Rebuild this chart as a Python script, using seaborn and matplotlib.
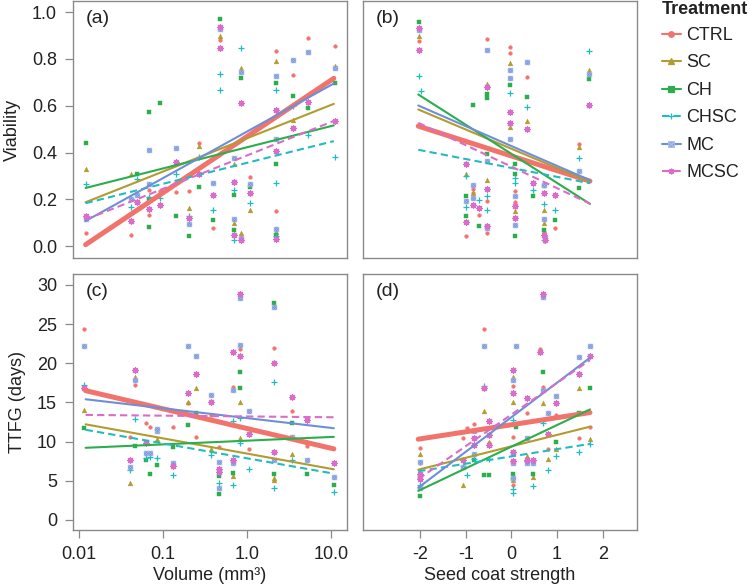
import matplotlib
matplotlib.use("Agg")
import pandas as pd
import matplotlib.pyplot as plt
import seaborn as sns
from matplotlib.lines import Line2D
from matplotlib.path import Path

# --- treatments, colours, markers ---
treatments = ["CTRL", "SC", "CH", "CHSC", "MC", "MCSC"]
colors = ["#F2736C", "#B39B30", "#2BAE4B", "#23BBC2", "#6D8FD8", "#D96DC9"]

# --- fitted line end points ---
vol_fit_x = [0.012, 10.8]
scs_fit_x = [-2.04, 1.72]
a_start = [0.007, 0.188, 0.249, 0.184, 0.108, 0.114]
a_end = [0.717, 0.608, 0.516, 0.449, 0.695, 0.535]
b_start = [0.513, 0.584, 0.648, 0.412, 0.601, 0.527]
b_end = [0.278, 0.275, 0.181, 0.269, 0.282, 0.182]
c_start = [16.5, 12.2, 9.2, 11.5, 15.4, 13.4]
c_end = [9.06, 6.45, 10.6, 5.9, 11.7, 13.1]
d_start = [10.3, 6.4, 3.7, 6.2, 4.1, 5.2]
d_end = [13.7, 11.9, 14.1, 9.7, 20.7, 20.4]

# --- observations: (x, treatment, y) ---
vol_viability = [
    (0.0122, "CH", .443), (0.0122, "SC", .329), (0.0122, "CHSC", .264), (0.0122, "MCSC", .128), (0.0122, "MC", .118), (0.0122, "CTRL", .058),
    (0.042, "SC", .31), (0.042, "MCSC", .107), (0.042, "CTRL", .048), (0.042, "MC", .20), (0.042, "CHSC", .168),
    (0.049, "CH", .31), (0.049, "CHSC", .289), (0.049, "MC", .217), (0.049, "MCSC", .19),
    (0.068, "CH", .573), (0.068, "MC", .412), (0.068, "MC", .264), (0.068, "CTRL", .241), (0.068, "CH", .20), (0.068, "CHSC", .21), (0.068, "MCSC", .16), (0.068, "CTRL", .132), (0.068, "CH", .083),
    (0.093, "CH", .611), (0.093, "MCSC", .178), (0.093, "CTRL", .234), (0.093, "CHSC", .205),
    (0.144, "MC", .42), (0.144, "MCSC", .358), (0.144, "CHSC", .307), (0.144, "CH", .128), (0.144, "CTRL", .231),
    (0.204, "CTRL", .235), (0.204, "SC", .162), (0.204, "MCSC", .122), (0.204, "MC", .096), (0.204, "CH", .044), (0.204, "CHSC", .13),
    (0.27, "CTRL", .44), (0.27, "SC", .43), (0.27, "CHSC", .38), (0.27, "CH", .251), (0.27, "MCSC", .31),
    (0.39, "MC", .27), (0.39, "MCSC", .22), (0.39, "CHSC", .154), (0.39, "CH", .113), (0.39, "CTRL", .078),
    (0.48, "CH", .97), (0.48, "MC", .926), (0.48, "MCSC", .937), (0.48, "SC", .899), (0.48, "CTRL", .88), (0.48, "MCSC", .847), (0.48, "CHSC", .736), (0.48, "CHSC", .668),
    (0.695, "MC", .377), (0.695, "SC", .35), (0.695, "MCSC", .275), (0.695, "CHSC", .24), (0.695, "CH", .22), (0.695, "MC", .115), (0.695, "SC", .10), (0.695, "CH", .07), (0.695, "MCSC", .05), (0.695, "CHSC", .026),
    (0.85, "CHSC", .845), (0.85, "SC", .763), (0.85, "MC", .742), (0.85, "CH", .72), (0.85, "MCSC", .611), (0.85, "SC", .058), (0.85, "CTRL", .05), (0.85, "MC", .037), (0.85, "MCSC", .026),
    (1.1, "CTRL", .296), (1.1, "MC", .266), (1.1, "CH", .255), (1.1, "MCSC", .228), (1.1, "CHSC", .184), (1.1, "SC", .155),
    (2.2, "CTRL", .833), (2.2, "SC", .79), (2.2, "MC", .728), (2.2, "CH", .697), (2.2, "CHSC", .665), (2.2, "MCSC", .58), (2.2, "MC", .46), (2.2, "MCSC", .406), (2.2, "CH", .353), (2.2, "CHSC", .27), (2.2, "CTRL", .15), (2.2, "MC", .074), (2.2, "SC", .06), (2.2, "CH", .05), (2.2, "MCSC", .033), (2.2, "CHSC", .045),
    (3.5, "CTRL", .73), (3.5, "MC", .794), (3.5, "CH", .643), (3.5, "MCSC", .505), (3.5, "SC", .538), (3.5, "CHSC", .60),
    (5.3, "CTRL", .891), (5.3, "MC", .83), (5.3, "MCSC", .618), (5.3, "CH", .592), (5.3, "CHSC", .475),
    (11.0, "CTRL", .854), (11.0, "SC", .771), (11.0, "MC", .761), (11.0, "CH", .697), (11.0, "MCSC", .535), (11.0, "CHSC", .381),
]

scs_viability = [
    (-2.02, "CH", .957), (-2.02, "MC", .925), (-2.02, "MCSC", .93), (-2.02, "SC", .898), (-2.02, "CTRL", .877), (-2.02, "MCSC", .836), (-2.02, "CHSC", .725), (-1.99, "CHSC", .662),
    (-1.0, "SC", .309), (-1.0, "CHSC", .30), (-1.0, "MCSC", .35), (-1.0, "CH", .216), (-1.0, "MC", .195), (-1.0, "CHSC", .166), (-1.0, "MCSC", .105), (-1.0, "CTRL", .045), (-1.0, "CH", .128),
    (-0.84, "CH", .605), (-0.84, "MC", .261), (-0.84, "MC", .208), (-0.84, "MCSC", .177), (-0.84, "CTRL", .228), (-0.84, "CTRL", .245), (-0.84, "SC", .226),
    (-0.72, "CHSC", .197), (-0.72, "MCSC", .162), (-0.72, "CTRL", .132), (-0.72, "CH", .087),
    (-0.53, "CTRL", .883), (-0.53, "MC", .838), (-0.53, "SC", .692), (-0.53, "MCSC", .68), (-0.53, "CH", .652), (-0.53, "CH", .632), (-0.53, "CH", .396), (-0.53, "MC", .363), (-0.53, "SC", .281), (-0.53, "MCSC", .244), (-0.53, "CHSC", .214), (-0.53, "CTRL", .194), (-0.53, "CHSC", .154), (-0.53, "MC", .078), (-0.53, "MCSC", .085), (-0.53, "CTRL", .057),
    (-0.04, "CTRL", .852), (-0.04, "CTRL", .824), (-0.04, "SC", .781), (-0.04, "MC", .752), (-0.04, "MC", .719), (-0.04, "CH", .688), (-0.04, "CHSC", .655), (-0.04, "MCSC", .574), (-0.04, "MCSC", .527), (-0.04, "SC", .51), (-0.04, "MC", .456),
    (0.07, "CH", .35), (0.07, "CH", .307), (0.07, "CHSC", .29), (0.07, "CHSC", .27), (0.07, "CTRL", .234), (0.07, "MC", .215), (0.07, "CTRL", .19), (0.07, "MCSC", .172), (0.07, "SC", .15), (0.07, "MCSC", .12), (0.07, "MC", .09), (0.07, "CH", .043),
    (0.34, "MC", .787), (0.34, "CTRL", .723), (0.34, "CH", .637), (0.34, "CHSC", .594), (0.34, "SC", .534), (0.34, "MCSC", .5),
    (0.48, "MCSC", .272), (0.48, "CHSC", .239), (0.48, "CH", .216),
    (0.72, "MC", .115), (0.72, "SC", .10), (0.72, "CH", .07), (0.72, "MCSC", .05), (0.72, "CTRL", .06), (0.74, "MC", .037), (0.72, "CHSC", .026), (0.74, "MCSC", .026), (0.72, "MC", .261), (0.72, "MCSC", .228), (0.72, "CHSC", .18), (0.72, "SC", .155), (0.72, "CH", .256),
    (0.96, "MCSC", .217), (0.96, "CHSC", .153), (0.96, "CH", .111), (0.96, "CTRL", .078),
    (1.47, "CTRL", .436), (1.47, "SC", .425), (1.47, "CHSC", .375), (1.47, "MC", .322), (1.47, "CH", .248),
    (1.69, "CHSC", .835), (1.69, "SC", .754), (1.69, "MC", .735), (1.69, "CH", .712), (1.69, "MCSC", .604),
]

vol_ttfg = [
    (0.0115, "CTRL", 24.4), (0.0115, "MC", 22.2), (0.0115, "CHSC", 17.2), (0.0115, "MCSC", 16.9), (0.0115, "SC", 14.0), (0.0115, "CH", 11.7),
    (0.04, "SC", 4.66), (0.04, "MC", 6.8), (0.04, "CHSC", 6.4), (0.04, "MCSC", 7.7), (0.04, "CTRL", 10.55),
    (0.047, "MCSC", 19.2), (0.047, "MC", 17.9), (0.047, "SC", 18.2), (0.047, "CTRL", 17.2), (0.047, "CHSC", 12.9), (0.047, "CH", 9.45),
    (0.063, "CTRL", 12.4), (0.063, "MC", 8.55), (0.063, "CH", 7.7), (0.063, "CHSC", 7.95), (0.063, "MCSC", 9.8), (0.063, "MC", 9.9),
    (0.07, "CTRL", 11.8), (0.07, "CH", 5.9), (0.07, "MC", 8.5), (0.07, "CHSC", 8.0),
    (0.085, "MC", 11.3), (0.085, "CH", 7.05), (0.085, "CHSC", 7.9), (0.085, "MC", 11.6), (0.085, "SC", 10.3),
    (0.13, "CTRL", 11.8), (0.13, "CH", 9.3), (0.13, "MC", 7.2), (0.13, "MCSC", 6.9), (0.13, "CHSC", 5.77),
    (0.2, "MC", 22.2), (0.2, "MCSC", 16.2), (0.2, "CTRL", 14.9), (0.2, "SC", 15.0), (0.2, "CH", 12.1),
    (0.25, "MC", 20.9), (0.25, "MCSC", 18.6), (0.25, "SC", 16.9), (0.25, "CTRL", 10.55), (0.25, "CH", 13.6),
    (0.37, "MC", 15.9), (0.37, "MCSC", 15.0), (0.37, "CTRL", 13.4), (0.37, "SC", 9.1), (0.37, "CHSC", 8.3),
    (0.46, "CTRL", 9.3), (0.46, "MC", 7.4), (0.46, "MCSC", 6.5), (0.46, "MCSC", 6.15), (0.46, "MC", 4.1), (0.46, "CH", 5.6), (0.46, "CH", 3.25), (0.46, "CHSC", 4.66),
    (0.68, "MCSC", 21.4), (0.68, "CTRL", 17.0), (0.68, "MC", 16.6), (0.68, "CHSC", 12.6), (0.68, "MCSC", 7.7), (0.68, "MC", 7.3), (0.68, "CH", 6.0), (0.68, "SC", 5.6), (0.68, "CHSC", 4.45),
    (0.83, "MCSC", 28.8), (0.83, "MC", 28.3), (0.83, "MC", 22.3), (0.83, "CTRL", 21.8), (0.83, "MCSC", 20.9), (0.83, "CH", 18.9), (0.83, "CH", 16.8), (0.83, "SC", 15.0), (0.83, "CHSC", 13.0), (0.83, "SC", 10.4), (0.83, "CHSC", 9.8),
    (1.05, "MC", 13.9), (1.05, "MCSC", 11.0), (1.05, "CTRL", 9.1), (1.05, "CHSC", 6.5),
    (2.1, "CH", 27.7), (2.1, "MC", 27.2), (2.1, "CTRL", 22.0), (2.1, "MCSC", 20.0), (2.1, "CHSC", 17.6), (2.1, "MCSC", 8.7), (2.1, "MC", 7.6), (2.1, "CH", 5.9), (2.1, "SC", 5.4), (2.1, "CHSC", 4.1), (2.1, "SC", 5.1),
    (3.4, "MCSC", 15.7), (3.4, "CTRL", 13.9), (3.4, "CH", 12.4), (3.4, "MC", 10.55), (3.4, "SC", 8.4), (3.4, "CHSC", 7.65),
    (5.2, "MCSC", 12.7), (5.2, "CTRL", 9.4), (5.2, "MC", 7.7), (5.2, "CH", 5.8), (5.2, "SC", 10.0),
    (10.8, "MCSC", 7.2), (10.8, "MC", 5.5), (10.8, "CH", 4.5), (10.8, "CHSC", 3.55),
]

scs_ttfg = [
    (-2.0, "CTRL", 9.2), (-2.0, "SC", 8.4), (-2.0, "CTRL", 7.2), (-2.0, "MC", 7.4), (-2.0, "MCSC", 5.9), (-2.0, "CH", 5.5), (-2.0, "CHSC", 4.5), (-2.0, "MC", 4.1), (-2.0, "CH", 3.0), (-2.0, "MCSC", 5.2),
    (-1.05, "CTRL", 10.4), (-1.05, "SC", 4.5), (-1.05, "MC", 6.8), (-1.05, "CHSC", 6.9), (-0.98, "CTRL", 11.7), (-0.98, "CHSC", 5.7), (-1.05, "MCSC", 7.7),
    (-0.83, "CTRL", 12.3), (-0.83, "MCSC", 10.4), (-0.83, "MCSC", 9.5), (-0.83, "MC", 8.4), (-0.83, "CHSC", 7.8), (-0.83, "CH", 7.7), (-0.83, "MC", 11.3),
    (-0.6, "CTRL", 24.4), (-0.6, "MC", 22.2), (-0.6, "CHSC", 17.05), (-0.6, "MCSC", 16.8), (-0.6, "SC", 13.9), (-0.6, "CH", 5.7),
    (-0.5, "MCSC", 12.6), (-0.5, "MCSC", 10.8), (-0.5, "SC", 10.0), (-0.5, "MCSC", 9.6), (-0.5, "CTRL", 9.8), (-0.5, "CH", 5.7), (-0.5, "CHSC", 7.8),
    (0.03, "MCSC", 19.2), (0.03, "MC", 17.8), (0.03, "SC", 18.2), (0.03, "CTRL", 17.1), (0.03, "MCSC", 16.2), (0.03, "SC", 15.0), (0.03, "CTRL", 10.6), (0.03, "MCSC", 8.6), (0.03, "MC", 8.5), (0.03, "MCSC", 7.5), (0.03, "MC", 7.2), (0.03, "CH", 5.8), (0.03, "SC", 5.1), (0.03, "CH", 5.2), (0.03, "MC", 5.3), (0.03, "CHSC", 4.0), (0.03, "CHSC", 3.4), (0.03, "CTRL", 4.5), (0.03, "CHSC", 12.8),
    (0.1, "MC", 22.2), (0.1, "CH", 11.9),
    (0.34, "MCSC", 15.6), (0.34, "CTRL", 13.7), (0.34, "MC", 10.4), (0.34, "SC", 8.2), (0.34, "CHSC", 7.5), (0.34, "MC", 7.3), (0.34, "MCSC", 7.6), (0.34, "CTRL", 7.8),
    (0.48, "CH", 5.9), (0.48, "SC", 5.5), (0.48, "CHSC", 4.3), (0.48, "MCSC", 7.6), (0.48, "MC", 7.2), (0.48, "CTRL", 7.7),
    (0.7, "MCSC", 28.8), (0.7, "MC", 28.4), (0.62, "CTRL", 21.8), (0.62, "MCSC", 21.4), (0.7, "CH", 18.9), (0.7, "CTRL", 17.0), (0.7, "MC", 16.6), (0.7, "SC", 14.9), (0.7, "CHSC", 12.4),
    (0.8, "MC", 13.7), (0.8, "MCSC", 10.9), (0.8, "CTRL", 9.1), (0.8, "CHSC", 6.4), (0.8, "SC", 7.8),
    (0.98, "MC", 15.8), (0.98, "MCSC", 14.9), (0.98, "CTRL", 13.4), (0.98, "CH", 9.9), (0.98, "SC", 9.0), (0.98, "CHSC", 8.2),
    (1.49, "MC", 20.8), (1.49, "MCSC", 18.6), (1.49, "SC", 16.8), (1.49, "CTRL", 10.4), (1.49, "CHSC", 8.7), (1.49, "CH", 13.7),
    (1.71, "MC", 22.2), (1.71, "MCSC", 20.9), (1.71, "CH", 16.8), (1.71, "CTRL", 11.8), (1.71, "SC", 10.3), (1.71, "CHSC", 9.7),
]

# boxed-x marker for MC
box_x = Path(
    [(-1, -1), (1, -1), (1, 1), (-1, 1), (-1, -1), (-1, -1), (1, 1), (-1, 1), (1, -1)],
    [Path.MOVETO, Path.LINETO, Path.LINETO, Path.LINETO, Path.CLOSEPOLY,
     Path.MOVETO, Path.LINETO, Path.MOVETO, Path.LINETO],
)
mc_light = "#aabdea"
markers = ["o", "^", "s", "+", box_x, (8, 2, 0)]
sizes = [7, 12, 8, 20, 12, 18]
styles = ["-", "-", "-", (0, (3.5, 2)), "-", (0, (3.5, 2))]
widths = [3.6, 1.5, 1.5, 1.5, 1.5, 1.5]

sns.set_style("white")
plt.rcParams["font.family"] = ["Liberation Sans", "DejaVu Sans"]
plt.rcParams["axes.unicode_minus"] = False
spine_col = "#8a8a8a"
text_col = "#222222"

fig = plt.figure(figsize=(7.5, 5.86), dpi=100)
ax_a = fig.add_axes([73 / 750, 1 - 258 / 586, 274 / 750, 257 / 586])
ax_b = fig.add_axes([363 / 750, 1 - 258 / 586, 274 / 750, 257 / 586])
ax_c = fig.add_axes([73 / 750, 1 - 530 / 586, 274 / 750, 256 / 586])
ax_d = fig.add_axes([363 / 750, 1 - 530 / 586, 274 / 750, 256 / 586])


def draw_panel(ax, pts, fit_x, starts, ends):
    df = pd.DataFrame(pts, columns=["x", "trt", "y"])
    for i, t in enumerate(treatments):
        sub = df[df["trt"] == t]
        m = markers[i]
        if m == "+" or isinstance(m, tuple):
            sns.scatterplot(data=sub, x="x", y="y", marker=m, color=colors[i],
                            s=sizes[i], linewidth=0.9, ax=ax, legend=False, zorder=2)
        elif isinstance(m, Path):
            sns.scatterplot(data=sub, x="x", y="y", marker=m, facecolor=colors[i],
                            edgecolor=mc_light, s=sizes[i], linewidth=0.45, ax=ax,
                            legend=False, zorder=2)
        else:
            sns.scatterplot(data=sub, x="x", y="y", marker=m, color=colors[i],
                            edgecolor=colors[i], s=sizes[i], linewidth=0.3, ax=ax,
                            legend=False, zorder=2)
    for i, t in enumerate(treatments):
        sns.lineplot(x=fit_x, y=[starts[i], ends[i]], color=colors[i], lw=widths[i],
                     linestyle=styles[i], ax=ax, zorder=3)


draw_panel(ax_a, vol_viability, vol_fit_x, a_start, a_end)
draw_panel(ax_b, scs_viability, scs_fit_x, b_start, b_end)
draw_panel(ax_c, vol_ttfg, vol_fit_x, c_start, c_end)
draw_panel(ax_d, scs_ttfg, scs_fit_x, d_start, d_end)

for ax in (ax_a, ax_c):
    ax.set_xscale("log")
    ax.set_xlim(10 ** -2.071, 10 ** 1.19)
for ax in (ax_b, ax_d):
    ax.set_xlim(-3.25, 2.75)
for ax in (ax_a, ax_b):
    ax.set_ylim(-0.05, 1.047)
for ax in (ax_c, ax_d):
    ax.set_ylim(-1.3, 31.4)

ax_a.set_yticks([0, 0.2, 0.4, 0.6, 0.8, 1.0])
ax_a.set_yticklabels(["0.0", "0.2", "0.4", "0.6", "0.8", "1.0"])
ax_c.set_yticks([0, 5, 10, 15, 20, 25, 30])
ax_c.set_xticks([0.01, 0.1, 1, 10])
ax_c.set_xticklabels(["0.01", "0.1", "1.0", "10.0"])
ax_c.minorticks_off()
ax_a.minorticks_off()
ax_d.set_xticks([-2, -1, 0, 1, 2])
ax_d.set_xticklabels(["-2", "-1", "0", "1", "2"])

for ax, lab in zip((ax_a, ax_b, ax_c, ax_d), ["(a)", "(b)", "(c)", "(d)"]):
    ax.set_xlabel("")
    ax.set_ylabel("")
    for s in ax.spines.values():
        s.set_color(spine_col)
        s.set_linewidth(1.0)
    ax.tick_params(colors=spine_col, labelcolor=text_col, length=5.5, width=0.9,
                   labelsize=13, pad=6, direction="out")
    ax.text(0.045, 0.965, lab, transform=ax.transAxes, ha="left", va="top",
            fontsize=14, color=text_col)

ax_a.tick_params(axis="x", bottom=False, labelbottom=False)
ax_b.tick_params(axis="both", bottom=False, labelbottom=False, left=False, labelleft=False)
ax_c.tick_params(axis="x", bottom=True)
ax_c.tick_params(axis="y", left=True)
ax_a.tick_params(axis="y", left=True)
ax_d.tick_params(axis="y", left=False, labelleft=False)
ax_d.tick_params(axis="x", bottom=True)

ax_a.set_ylabel("Viability", fontsize=13, color=text_col, labelpad=8)
ax_c.set_ylabel("TTFG (days)", fontsize=13, color=text_col, labelpad=8)
ax_c.set_xlabel("Volume (mm³)", fontsize=13, color=text_col, labelpad=3)
ax_d.set_xlabel("Seed coat strength", fontsize=13, color=text_col, labelpad=3)

handles = [Line2D([0], [0], color=colors[i], lw=1.5, linestyle=styles[i], marker=markers[i],
                  markersize=4, markerfacecolor=colors[i],
                  markeredgecolor=colors[i] if i != 4 else mc_light, markeredgewidth=0.9)
           for i in range(len(treatments))]
fig.text(662 / 750, 1 - 10 / 586, "Treatment", ha="left", va="center",
         fontsize=13, fontweight="bold", color=text_col)
leg = fig.legend(handles, treatments, loc="upper left",
                 bbox_to_anchor=(662 / 750, 1 - 27 / 586), frameon=False, fontsize=13,
                 handlelength=1.05, handletextpad=0.3, labelspacing=0.58,
                 borderpad=0, borderaxespad=0)
for txt in leg.get_texts():
    txt.set_color(text_col)

fig.savefig("out.png", dpi=100)
